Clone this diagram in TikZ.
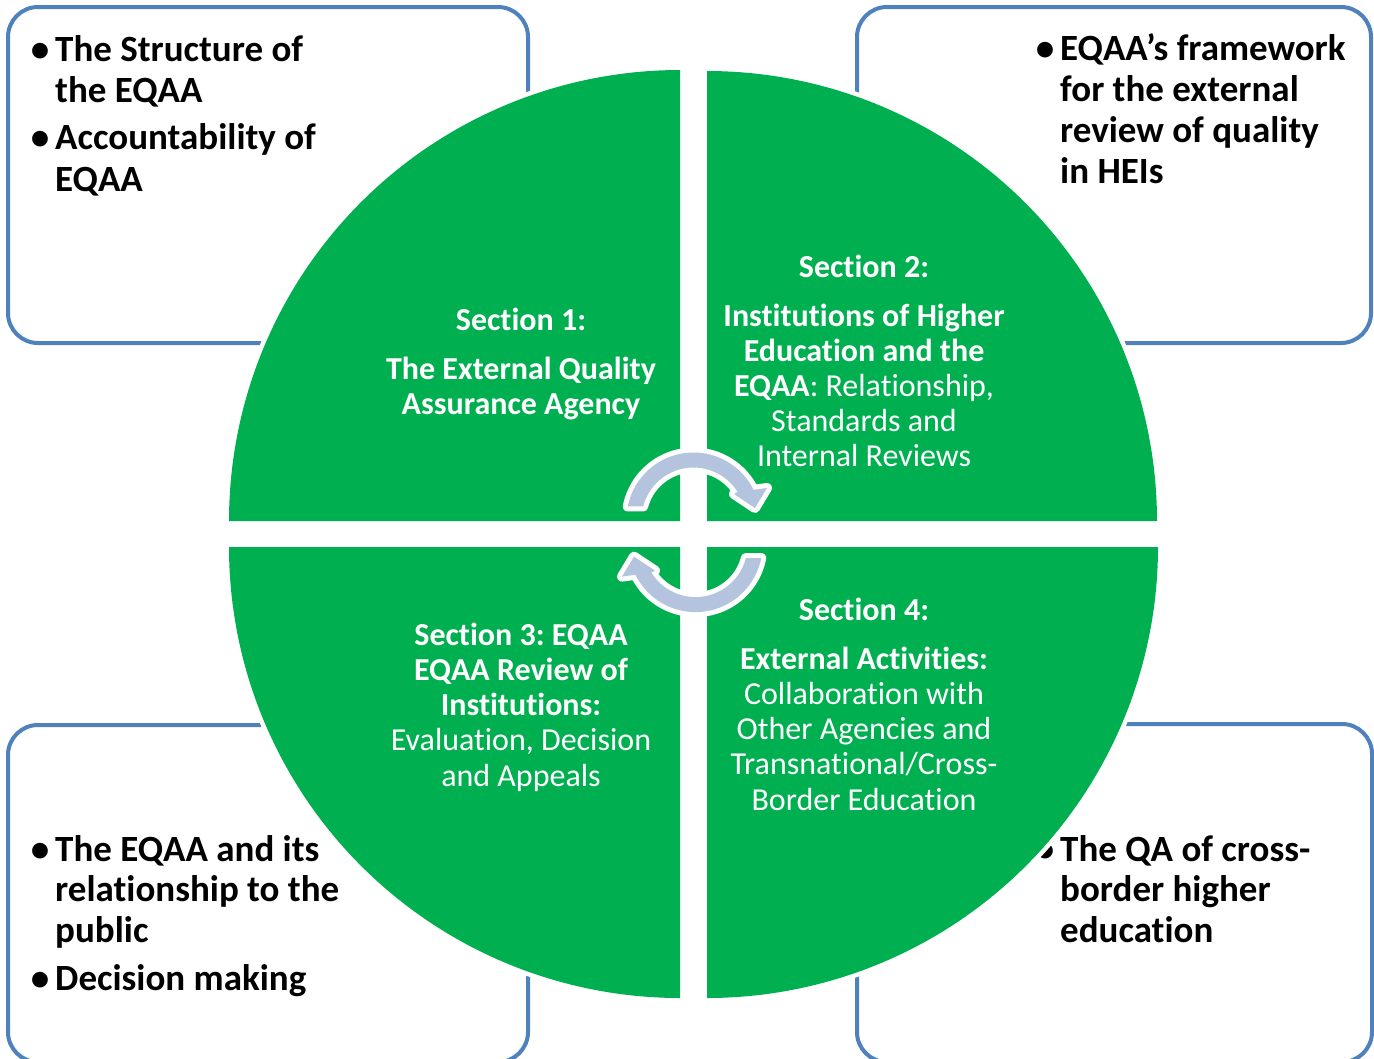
\documentclass[tikz,border=0pt]{standalone}
\usepackage{fontspec}
\setmainfont{Carlito}[Ligatures=NoCommon]
\frenchspacing
\definecolor{quadgreen}{RGB}{0,176,80}
\definecolor{boxblue}{RGB}{79,129,189}
\definecolor{arrowfill}{RGB}{181,196,222}
\begin{document}
\begin{tikzpicture}[x=1pt,y=-1pt,
  boxframe/.style={draw=boxblue, line width=4pt, rounded corners=30pt},
  boxtext/.style={font=\fontsize{37}{41}\selectfont\bfseries, anchor=base west, inner sep=0pt, text=black},
  sectext/.style={font=\fontsize{32}{35}\selectfont, anchor=base, inner sep=0pt, text=white},
  halo/.style={fill=white, draw=white, line width=9pt, line join=round},
  turnarrow/.style={insert path={
    plot[domain=191.2:333.7, samples=60] ({693.5+67*cos(\x)},{519.5+67*sin(\x)})
    -- (767,488) -- (755,508) -- (734,494)
    -- plot[domain=328:194.5, samples=60] ({693.5+52*cos(\x)},{519.5+52*sin(\x)})
    -- cycle}},
  quadTL/.style={insert path={(680,521) -- plot[domain=180:270, samples=91] ({680+451*cos(\x)},{521+451*sin(\x)}) -- cycle}},
  quadTR/.style={insert path={(707,521) -- plot[domain=270:360, samples=91] ({707+450*cos(\x)},{521+450*sin(\x)}) -- cycle}},
  quadBL/.style={insert path={(680,547) -- plot[domain=90:180, samples=91] ({680+451*cos(\x)},{547+451*sin(\x)}) -- cycle}},
  quadBR/.style={insert path={(707,547) -- plot[domain=0:90, samples=91] ({707+451*cos(\x)},{547+451*sin(\x)}) -- cycle}},
]
\useasboundingbox[fill=white] (0,0) rectangle (1374,1058);

% corner frames
\draw[boxframe] (8,7) rectangle (528,343);
\draw[boxframe] (857,7) rectangle (1371,343);
\draw[boxframe] (8,725) rectangle (528,1062);
\draw[boxframe] (857,724) rectangle (1372,1062);

% corner frame texts
\node[boxtext] (tl1) at (55,61)  {\llap{•\hspace{6pt}}The Structure of};
\node[boxtext] (tl2) at (55,102) {the EQAA};
\node[boxtext] (tl3) at (55,149) {\llap{•\hspace{6pt}}Accountability of};
\node[boxtext] (tl4) at (55,191) {EQAA};

\node[boxtext] (tr1) at (1060,60)  {\llap{•\hspace{6pt}}EQAA’s framework};
\node[boxtext] (tr2) at (1060,101) {for the external};
\node[boxtext] (tr3) at (1060,142) {review of quality};
\node[boxtext] (tr4) at (1060,183) {in HEIs};

\node[boxtext] (bl1) at (55,861) {\llap{•\hspace{6pt}}The EQAA and its};
\node[boxtext] (bl2) at (55,901) {relationship to the};
\node[boxtext] (bl3) at (55,942) {public};
\node[boxtext] (bl4) at (55,990) {\llap{•\hspace{6pt}}Decision making};

\node[boxtext] (br1) at (1060,861) {\llap{•\hspace{6pt}}The QA of cross-};
\node[boxtext] (br2) at (1060,901) {border higher};
\node[boxtext] (br3) at (1060,942) {education};

% white halo under the four quarter discs
\path[halo, quadTL];
\path[halo, quadTR];
\path[halo, quadBL];
\path[halo, quadBR];
% the quarter discs
\fill[quadgreen, quadTL];
\fill[quadgreen, quadTR];
\fill[quadgreen, quadBL];
\fill[quadgreen, quadBR];

% cycle arrows in the middle
\path[halo, line width=10pt, turnarrow];
\fill[arrowfill, turnarrow];
\path[halo, line width=10pt, rotate around={180:(694.5,532.3)}, turnarrow];
\fill[arrowfill, rotate around={180:(694.5,532.3)}, turnarrow];

% section 1
\node[sectext] (s1a) at (521,330) {\bfseries Section 1:};
\node[sectext] (s1b) at (521,379) {\bfseries The External Quality};
\node[sectext] (s1c) at (521,414) {\bfseries Assurance Agency};

% section 2
\node[sectext] (s2a) at (864,277) {\bfseries Section 2:};
\node[sectext] (s2b) at (864,326) {\bfseries Institutions of Higher};
\node[sectext] (s2c) at (864,361) {\bfseries Education and the};
\node[sectext] (s2d) at (864,396) {\textbf{EQAA}: Relationship,};
\node[sectext] (s2e) at (864,431) {Standards and};
\node[sectext] (s2f) at (864,466) {Internal Reviews};

% section 3
\node[sectext] (s3a) at (521,645) {\bfseries Section 3: EQAA};
\node[sectext] (s3b) at (521,680) {\bfseries EQAA Review of};
\node[sectext] (s3c) at (521,715) {\bfseries Institutions:};
\node[sectext] (s3d) at (521,750) {Evaluation, Decision};
\node[sectext] (s3e) at (521,786) {and Appeals};

% section 4
\node[sectext] (s4a) at (864,620) {\bfseries Section 4:};
\node[sectext] (s4b) at (864,669) {\bfseries External Activities:};
\node[sectext] (s4c) at (864,704) {Collaboration with};
\node[sectext] (s4d) at (864,739) {Other Agencies and};
\node[sectext] (s4e) at (864,774) {Transnational/Cross-};
\node[sectext] (s4f) at (864,810) {Border Education};
\end{tikzpicture}
\end{document}
